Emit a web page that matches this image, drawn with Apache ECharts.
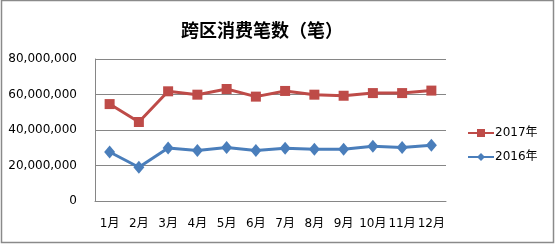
<!DOCTYPE html>
<html><head><meta charset="utf-8">
<script src="https://cdn.jsdelivr.net/npm/echarts@6/dist/echarts.min.js"></script>
<style>html,body{margin:0;padding:0;background:#fff}#c{width:556px;height:244px}</style>
</head><body><div id="c"></div>
<script>
const titleText = '跨区消费笔数（笔）';
const categories = ['1月','2月','3月','4月','5月','6月','7月','8月','9月','10月','11月','12月'];
const series2017 = [54600000,44500000,61800000,59900000,63100000,58800000,62000000,59900000,59300000,60800000,60800000,62200000];
const series2016 = [27600000,19000000,29900000,28500000,30200000,28500000,29700000,29100000,29100000,30800000,30200000,31400000];
const yTicks = [0,20000000,40000000,60000000,80000000];

const chart = echarts.init(document.getElementById('c'), null, {renderer:'canvas'});
const fmt = v => v.toString().replace(/\B(?=(\d{3})+(?!\d))/g, ',');
const lblFont = '"DejaVu Sans", "Noto Sans CJK SC", sans-serif';
chart.setOption({
  animation:false,
  backgroundColor:'#fff',
  textStyle:{fontFamily:lblFont},
  title:{text:titleText,left:257,top:16,textAlign:'center',
    textStyle:{fontSize:18,fontWeight:'bold',color:'#000',fontFamily:'"Noto Sans CJK SC", sans-serif'}},
  graphic:[{type:'rect',shape:{x:1.5,y:0.5,width:552,height:242},style:{fill:'none',stroke:'#8a8a8a',lineWidth:1.5},z:100}],
  grid:{left:95,right:110,top:59,bottom:43,containLabel:false},
  legend:{
    left:462, top:122, orient:'vertical', itemGap:12, itemWidth:26, itemHeight:10,
    textStyle:{fontSize:12,color:'#000',fontFamily:lblFont,padding:[0,0,0,-4]},
    data:['2017年','2016年']
  },
  xAxis:{type:'category',data:categories,boundaryGap:true,
    axisLine:{lineStyle:{color:'#868686'}},axisTick:{show:false},
    axisLabel:{fontSize:12,color:'#000',margin:17,interval:0,fontFamily:lblFont}},
  yAxis:{type:'value',min:yTicks[0],max:yTicks[yTicks.length-1],interval:yTicks[1]-yTicks[0],
    axisLine:{show:true,lineStyle:{color:'#868686'}},axisTick:{show:false},
    splitLine:{lineStyle:{color:'#868686'}},
    axisLabel:{fontSize:12,color:'#000',margin:18,formatter:fmt,fontFamily:lblFont}},
  series:[
    {name:'2017年',type:'line',data:series2017,symbol:'rect',symbolSize:10,
      lineStyle:{color:'#be4b48',width:3},itemStyle:{color:'#be4b48'}},
    {name:'2016年',type:'line',data:series2016,symbol:'diamond',symbolSize:[11,13],
      lineStyle:{color:'#4a7ebb',width:3},itemStyle:{color:'#4a7ebb'}}
  ]
});
</script></body></html>
